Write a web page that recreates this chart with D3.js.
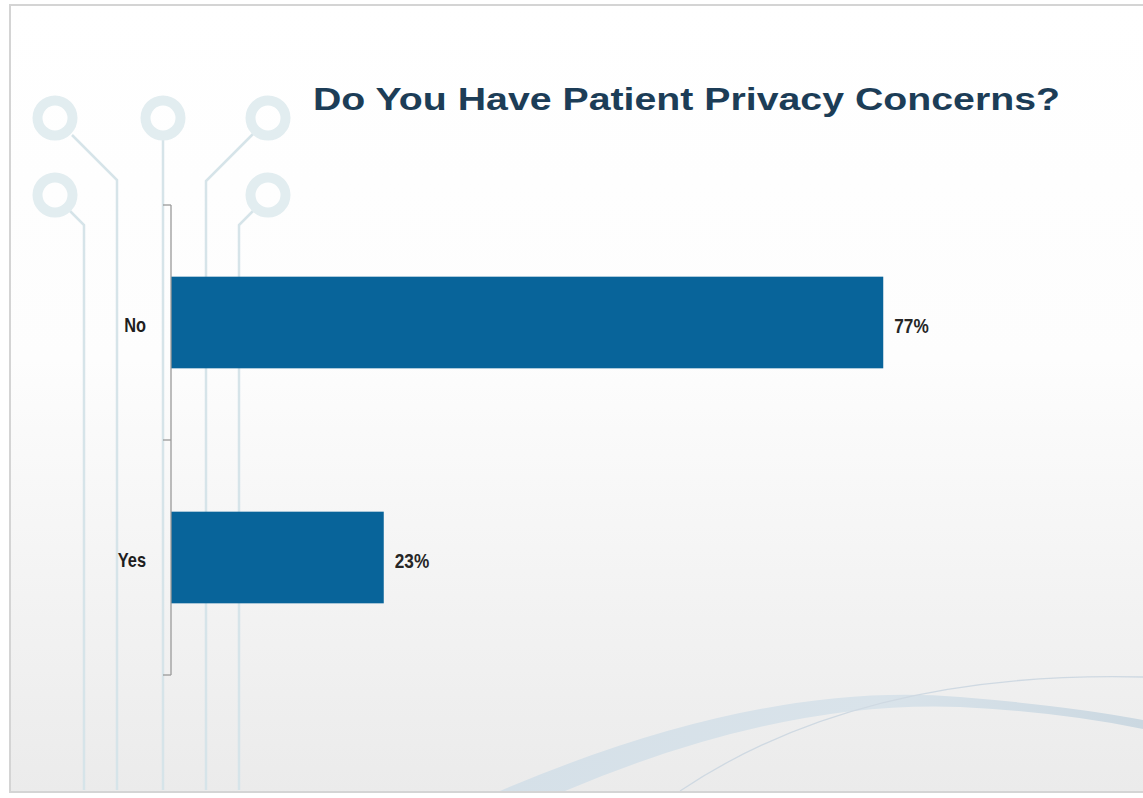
<!DOCTYPE html>
<html>
<head>
<meta charset="utf-8">
<script src="https://cdn.jsdelivr.net/npm/d3@7"></script>
<style>
  html, body { margin: 0; padding: 0; background: #ffffff; }
  svg { display: block; }
</style>
</head>
<body>
<svg id="chart" width="1143" height="798"></svg>
<script>
// Survey answers
const categories = ["No", "Yes"];
const values = [77, 23];
const valueLabels = ["77%", "23%"];
const title = "Do You Have Patient Privacy Concerns?";

const W = 1143, H = 798;
const svg = d3.select("#chart");
const defs = svg.append("defs");

// slide background: white fading to light grey toward the bottom
const bg = defs.append("linearGradient").attr("id", "bgGrad")
  .attr("x1", 0).attr("y1", 0).attr("x2", 0).attr("y2", 1);
bg.append("stop").attr("offset", "0%").attr("stop-color", "#ffffff");
bg.append("stop").attr("offset", "45%").attr("stop-color", "#fdfdfd");
bg.append("stop").attr("offset", "75%").attr("stop-color", "#f3f3f3");
bg.append("stop").attr("offset", "100%").attr("stop-color", "#ebebeb");

svg.append("rect").attr("x", 10).attr("y", 5).attr("width", W).attr("height", 787)
  .attr("fill", "url(#bgGrad)").attr("stroke", "#d4d4d4").attr("stroke-width", 2);

// decorative circuit traces on the left
const deco = svg.append("g");
const traceColor = "#d6e4e9";
const traces = [
  [[72, 135], [117, 180], [117, 790]],
  [[163, 137], [163, 790]],
  [[253, 134], [206, 181], [206, 790]],
  [[70, 211], [84, 225], [84, 790]],
  [[253, 211], [239, 225], [239, 790]]
];
const lineGen = d3.line();
deco.selectAll("path.trace").data(traces).join("path")
  .attr("class", "trace")
  .attr("d", d => lineGen(d))
  .attr("fill", "none").attr("stroke", traceColor).attr("stroke-width", 2.5);
const pads = [[55, 118], [163, 118], [268, 118], [55, 195], [268, 195]];
deco.selectAll("circle").data(pads).join("circle")
  .attr("cx", d => d[0]).attr("cy", d => d[1]).attr("r", 17.5)
  .attr("fill", "none").attr("stroke", "#e2edf0").attr("stroke-width", 10);

// swoosh at the bottom right
const sw = defs.append("linearGradient").attr("id", "swGrad")
  .attr("x1", 0).attr("y1", 0).attr("x2", 1).attr("y2", 0);
sw.append("stop").attr("offset", "0%").attr("stop-color", "#d5e0e8");
sw.append("stop").attr("offset", "60%").attr("stop-color", "#d9e3ea");
sw.append("stop").attr("offset", "100%").attr("stop-color", "#cbd8e1");
svg.append("path")
  .attr("d", "M500,791 Q760,680 960,697 Q1070,706 1143,720 L1143,729 Q1060,712 960,707 Q780,700 565,791 Z")
  .attr("fill", "url(#swGrad)");
svg.append("path")
  .attr("d", "M680,791 Q860,670 1143,677")
  .attr("fill", "none").attr("stroke", "#cfd9e2").attr("stroke-width", 1.3);

// bottom edge of the slide
svg.append("line").attr("x1", 10).attr("x2", W).attr("y1", 792).attr("y2", 792)
  .attr("stroke", "#d4d4d4").attr("stroke-width", 2);

// title
svg.append("text")
  .attr("x", 313).attr("y", 110)
  .attr("font-family", "Liberation Sans, Arial, sans-serif")
  .attr("font-weight", "bold").attr("font-size", 32)
  .attr("fill", "#1c3d57")
  .attr("textLength", 747).attr("lengthAdjust", "spacingAndGlyphs")
  .text(title);

// scales
const plotTop = 205, plotBottom = 675, plotLeft = 171;
const x = d3.scaleLinear().domain([0, 100]).range([plotLeft, plotLeft + 925]);
const yBand = d3.scaleBand().domain(categories).range([plotTop, plotBottom])
  .paddingInner(0.61).paddingOuter(0.305);
const yCat = d3.scaleBand().domain(categories).range([plotTop, plotBottom]);

const data = categories.map((c, i) => ({ cat: c, value: values[i], label: valueLabels[i] }));

// bars
svg.append("g").selectAll("rect").data(data).join("rect")
  .attr("x", x(0))
  .attr("y", d => yBand(d.cat))
  .attr("width", d => x(d.value) - x(0))
  .attr("height", yBand.bandwidth())
  .attr("fill", "#08649a");

// category axis: line with ticks on the category boundaries
const axisG = svg.append("g").attr("stroke", "#9a9a9a").attr("stroke-width", 1.3);
axisG.append("line").attr("x1", plotLeft).attr("x2", plotLeft)
  .attr("y1", plotTop).attr("y2", plotBottom);
const boundaries = categories.map(c => yCat(c)).concat([yCat(categories[categories.length - 1]) + yCat.bandwidth()]);
axisG.selectAll("line.tick").data(boundaries).join("line")
  .attr("class", "tick")
  .attr("x1", plotLeft - 8).attr("x2", plotLeft)
  .attr("y1", d => d).attr("y2", d => d);

// condensed bold labels
const labelFont = "Liberation Sans, Arial, sans-serif";
const squeeze = 0.82;

// category labels
svg.append("g").selectAll("text").data(data).join("text")
  .attr("transform", d => `translate(146,${yCat(d.cat) + yCat.bandwidth() / 2 + 2}) scale(${squeeze},1)`)
  .attr("dy", "0.35em")
  .attr("text-anchor", "end")
  .attr("font-family", labelFont).attr("font-weight", "bold").attr("font-size", 20)
  .attr("fill", "#1e1e1e")
  .text(d => d.cat);

// value labels
svg.append("g").selectAll("text").data(data).join("text")
  .attr("transform", d => `translate(${x(d.value) + 11},${yCat(d.cat) + yCat.bandwidth() / 2 + 3}) scale(${squeeze},1)`)
  .attr("dy", "0.35em")
  .attr("font-family", labelFont).attr("font-weight", "bold").attr("font-size", 21)
  .attr("fill", "#262626")
  .text(d => d.label);
</script>
</body>
</html>
